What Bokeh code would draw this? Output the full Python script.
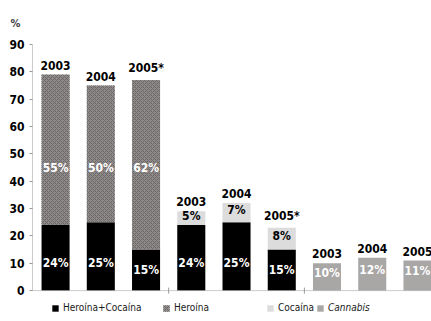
from bokeh.plotting import figure
from bokeh.models import ColumnDataSource, Range1d, FixedTicker, Legend, LegendItem, Span
from bokeh.embed import file_html
from bokeh.resources import INLINE
from bokeh.core.properties import value

years = ["2003", "2004", "2005*", "2003", "2004", "2005*", "2003", "2004", "2005"]
her_coc = [24, 25, 15, 0, 0, 0, 0, 0, 0]
heroina = [55, 50, 62, 0, 0, 0, 0, 0, 0]
her_coc2 = [0, 0, 0, 24, 25, 15, 0, 0, 0]
cocaina = [0, 0, 0, 5, 7, 8, 0, 0, 0]
cannabis = [0, 0, 0, 0, 0, 0, 10, 12, 11]
yticks = [0, 10, 20, 30, 40, 50, 60, 70, 80, 90]
group_breaks = [2.5, 5.5]
legend_labels = ["Heroína+Cocaína", "Heroína", "Cocaína", "Cannabis"]

FONT = "DejaVu Sans Condensed"

x = list(range(len(years)))
black = [a + b for a, b in zip(her_coc, her_coc2)]
top_h = [b + h for b, h in zip(black, heroina)]
top_c = [t + c for t, c in zip(top_h, cocaina)]
total = [t + c for t, c in zip(top_c, cannabis)]

p = figure(width=431, height=321, output_backend="svg", toolbar_location=None,
           x_range=Range1d(-0.51, 8.31), y_range=Range1d(-11.3, 90),
           min_border_left=32, min_border_right=0, min_border_top=44, min_border_bottom=0)
p.outline_line_color = None
p.grid.visible = False
p.background_fill_color = "white"
p.xaxis.visible = False

p.title.text = "%"
p.title.align = "left"
p.title.offset = -22
p.title.text_font = FONT
p.title.text_font_size = "11px"
p.title.text_font_style = "bold"
p.title.standoff = 29

W = 0.62
src = ColumnDataSource(dict(x=x, black=black, top_h=top_h, top_c=top_c, total=total))
r_black = p.vbar(x="x", width=W, bottom=0, top="black", source=src, fill_color="black", line_color=None)
r_her = p.vbar(x="x", width=W, bottom="black", top="top_h", source=src, fill_color="#8f8a8a",
               line_color=None, hatch_pattern="x", hatch_color="#6c6767", hatch_scale=4, hatch_weight=1)
r_coc = p.vbar(x="x", width=W, bottom="top_h", top="top_c", source=src, fill_color="#dcdcdc", line_color=None)
r_can = p.vbar(x="x", width=W, bottom="top_c", top="total", source=src, fill_color="#a9a6a6", line_color=None)

# baseline (x axis) and group separator ticks
p.add_layout(Span(location=0, dimension="width", line_color="#999999", line_dash="1 1", line_width=1))
p.segment(x0=group_breaks, x1=group_breaks, y0=[-1.1] * len(group_breaks), y1=[1.1] * len(group_breaks),
          line_color="#999999", line_width=1)

# year labels
p.text(x=x, y=total, text=years, text_align="center", text_baseline="bottom", y_offset=-5,
       text_font=value(FONT), text_font_style="bold", text_font_size="12px", text_color="black")

# percentage labels
bx, by, bt = [], [], []
for i in x:
    if black[i] > 0:
        bx.append(i); by.append(min(black[i] / 2, 10)); bt.append(f"{black[i]}%")
p.text(x=bx, y=by, text=bt, text_align="center", text_baseline="middle",
       text_font=value(FONT), text_font_style="bold", text_font_size="12px", text_color="white")
hx, hy, ht = [], [], []
for i in x:
    if heroina[i] > 0:
        hx.append(i); hy.append(45); ht.append(f"{heroina[i]}%")
p.text(x=hx, y=hy, text=ht, text_align="center", text_baseline="middle",
       text_font=value(FONT), text_font_style="bold", text_font_size="12px", text_color="white")
cx, cy, ct = [], [], []
for i in x:
    if cocaina[i] > 0:
        cx.append(i); cy.append(top_h[i] + cocaina[i] / 2 + 0.8); ct.append(f"{cocaina[i]}%")
p.text(x=cx, y=cy, text=ct, text_align="center", text_baseline="middle",
       text_font=value(FONT), text_font_style="bold", text_font_size="12px", text_color="black")
kx, ky, kt = [], [], []
for i in x:
    if cannabis[i] > 0:
        kx.append(i); ky.append(top_c[i] + cannabis[i] / 2 + 1.5); kt.append(f"{cannabis[i]}%")
p.text(x=kx, y=ky, text=kt, text_align="center", text_baseline="middle",
       text_font=value(FONT), text_font_style="bold", text_font_size="12px", text_color="white")

# y axis
p.yaxis.ticker = FixedTicker(ticks=yticks)
p.yaxis.bounds = (0, 90)
p.yaxis.axis_line_color = "#999999"
p.yaxis.axis_line_dash = "1 1"
p.yaxis.major_tick_line_color = "#999999"
p.yaxis.major_tick_out = 3
p.yaxis.major_tick_in = 0
p.yaxis.minor_tick_line_color = None
p.yaxis.major_label_text_font = FONT
p.yaxis.major_label_text_font_style = "bold"
p.yaxis.major_label_text_font_size = "12px"
p.yaxis.major_label_text_color = "black"
p.yaxis.major_label_standoff = 5

# legend: one small legend per entry so that the spacing follows the reference
renderers = [r_black, r_her, r_coc, r_can]
leg_x = [19, 130, 234, 284]
styles = ["normal", "normal", "normal", "italic"]
for lab, rr, lx, st in zip(legend_labels, renderers, leg_x, styles):
    lg = Legend(items=[LegendItem(label=lab, renderers=[rr])], location=(lx, 8),
                border_line_color=None, background_fill_alpha=0,
                label_text_font=FONT, label_text_font_size="10px", label_text_font_style=st,
                label_text_color="#1a1a1a", label_height=11, glyph_width=8, glyph_height=8,
                padding=0, margin=0, label_standoff=4)
    p.add_layout(lg)

open("out.html", "w").write(file_html(p, INLINE))
